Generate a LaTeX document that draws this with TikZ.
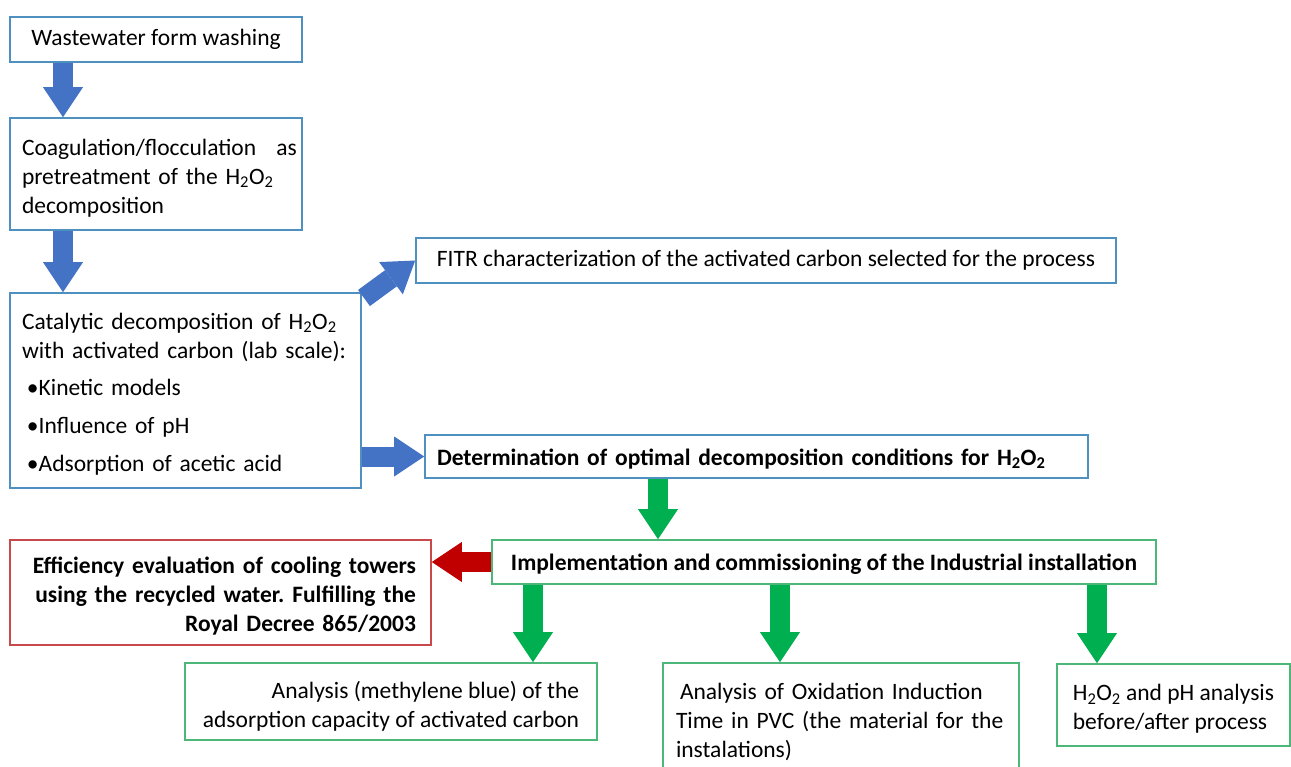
\documentclass[tikz,border=0pt]{standalone}
\usepackage{fontspec}
\setmainfont{Carlito}
\usetikzlibrary{arrows.meta}
\definecolor{bbox}{HTML}{4E90C0}
\definecolor{barrow}{HTML}{4472C4}
\definecolor{garrow}{HTML}{00B050}
\definecolor{gbox}{HTML}{4DB77A}
\definecolor{rarrow}{HTML}{C00000}
\definecolor{rbox}{HTML}{C8494B}
\frenchspacing
\newcommand\topstrut[1]{\rule{0pt}{#1}}
\begin{document}
\begin{tikzpicture}[x=1pt,y=-1pt,
  box/.style={draw=#1, line width=1.6pt, fill=white, inner sep=0pt, text=black,
    font=\fontsize{23.5}{29}\selectfont},
  bigarrow/.style={draw=#1, line width=20pt,
    -{Triangle[length=30pt,width=40pt,line width=0pt]}},
]
\useasboundingbox (0,0) rectangle (1291,767);
\clip (0,0) rectangle (1291,767);
\fill[white] (0,0) rectangle (1291,767);

\node[box=bbox, minimum width=292pt, minimum height=45pt] (n1) at (156,39.5) {Wastewater form washing};
\node[box=bbox, minimum width=292pt, minimum height=112pt, text width=268pt, align=left] (n2) at (156,174)
  {\topstrut{24pt}\makebox[275pt][l]{Coagulation/flocculation\hfill as}\\pretreatment of the H\textsubscript{2}O\textsubscript{2}\\decomposition};
\node[box=bbox, minimum width=351pt, minimum height=195pt, text width=327pt, align=left] (n3) at (185.5,390.5)
  {\topstrut{23pt}Catalytic decomposition of H\textsubscript{2}O\textsubscript{2}\\with activated carbon (lab scale):\\[8pt]
   \hspace*{5pt}\textbullet Kinetic models\\[9pt]\hspace*{5pt}\textbullet Influence of pH\\[9pt]\hspace*{5pt}\textbullet Adsorption of acetic acid};
\node[box=bbox, minimum width=700pt, minimum height=45pt] (n4) at (766,260.5)
  {FITR characterization of the activated carbon selected for the process};
\node[box=bbox, minimum width=663pt, minimum height=43pt, text width=639pt, align=left, font=\fontsize{23.5}{29}\selectfont\bfseries] (n5) at (756.5,456.5)
  {\topstrut{21pt}Determination of optimal decomposition conditions for H\textsubscript{2}O\textsubscript{2}};
\node[box=gbox, minimum width=664pt, minimum height=44pt, font=\fontsize{23.5}{29}\selectfont\bfseries] (n6) at (824,562)
  {\topstrut{21pt}Implementation and commissioning of the Industrial installation};
\node[box=rbox, minimum width=421pt, minimum height=105pt, text width=391pt, align=right, font=\fontsize{23.5}{29}\selectfont\bfseries] (n7) at (220.5,592.5)
  {\topstrut{24pt}Efficiency evaluation of cooling towers\\using the recycled water. Fulfilling the\\Royal Decree 865/2003};
\node[box=gbox, minimum width=412pt, minimum height=77pt, align=right] (n8) at (391,701.5)
  {\topstrut{26pt}Analysis (methylene blue) of the\\adsorption capacity of activated carbon};
\node[box=gbox, minimum width=356pt, minimum height=112pt, text width=330pt, align=left] (n9) at (841,719)
  {\topstrut{23pt}\hspace*{4pt}Analysis of Oxidation Induction\\Time in PVC (the material for the\\instalations)};
\node[box=gbox, minimum width=233pt, minimum height=82pt, align=left] (n10) at (1173.5,705)
  {\topstrut{24pt}H\textsubscript{2}O\textsubscript{2} and pH analysis\\before/after process};

\coordinate (ca) at (63,0);
\coordinate (cb) at (658,0);
\coordinate (cc) at (533,0);
\coordinate (cd) at (780,0);
\coordinate (ce) at (1097,0);
\coordinate (cf) at (364,298);

\draw[bigarrow=barrow] (n1.south -| ca) -- (n2.north -| ca);
\draw[bigarrow=barrow] (n2.south -| ca) -- (n3.north -| ca);
\draw[bigarrow=barrow] (cf) -- (n4.west);
\draw[bigarrow=barrow] (n3.east |- n5.west) -- (n5.west);
\draw[bigarrow=garrow] (n5.south -| cb) -- (n6.north -| cb);
\draw[bigarrow=rarrow] (n6.west) -- (n6.west -| n7.east);
\draw[bigarrow=garrow] (n6.south -| cc) -- (n8.north -| cc);
\draw[bigarrow=garrow] (n6.south -| cd) -- (n9.north -| cd);
\draw[bigarrow=garrow] (n6.south -| ce) -- (n10.north -| ce);
\end{tikzpicture}
\end{document}
